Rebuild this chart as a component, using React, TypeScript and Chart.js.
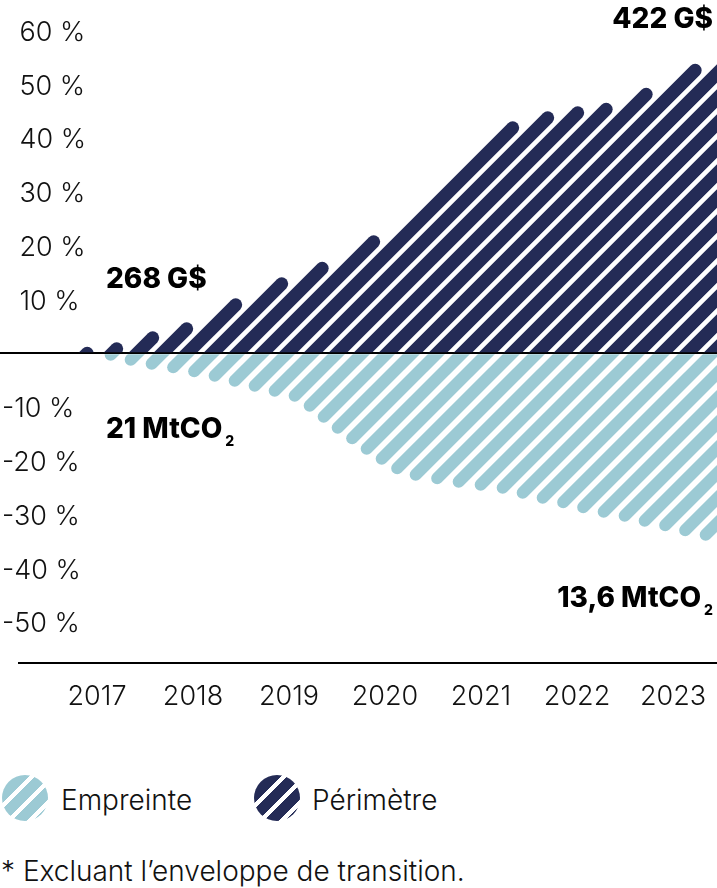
import { useEffect, useRef } from "react";
import { Chart, registerables } from "chart.js";
Chart.register(...registerables);

const NAVY = "#242b56";
const TEAL = "#9ccad4";

const YEAR_TICKS = [2017, 2018, 2019, 2020, 2021, 2022, 2023];
const PERCENT_TICKS = [-50, -40, -30, -20, -10, 0, 10, 20, 30, 40, 50, 60];

// Périmètre (upper envelope, % change)
const PERIMETRE_YEARS = [2016.88, 2017.26, 2017.58, 2017.95, 2018.44, 2018.94, 2019.38, 2019.79, 2021.34, 2021.67, 2021.98, 2022.29, 2022.71, 2023.23, 2023.46];
const PERIMETRE_VALUES = [0, 1.0, 2.9, 4.7, 9.0, 13.1, 16.1, 19.4, 42.1, 43.8, 44.7, 45.3, 48.1, 52.7, 53.3];

// Empreinte (lower envelope, % change)
const EMPREINTE_YEARS = [2017.08, 2017.19, 2017.6, 2018.02, 2018.46, 2018.88, 2019.08, 2019.22, 2019.5, 2019.79, 2020.1, 2020.31, 2020.52, 2020.97, 2021.2, 2021.64, 2022.06, 2022.52, 2022.97, 2023.41, 2023.46];
const EMPREINTE_VALUES = [0, -0.7, -2.1, -3.4, -5.3, -7.2, -8.1, -9.9, -13.9, -17.6, -21.3, -22.6, -23.2, -24.5, -25.0, -26.9, -28.7, -30.4, -32.3, -34.1, -34.3];

const STRIPE_STEP = 25; // px between stripes, measured along the baseline
const STRIPE_PHASE = 15.5;

type Pt = { x: number; y: number };

function curveAt(pts: Pt[], px: number): number | null {
  if (px < pts[0].x) return null;
  const n = pts.length;
  if (px > pts[n - 1].x) {
    // carry the last segment on past the right edge
    const a = pts[n - 2], b = pts[n - 1];
    return b.y + ((px - b.x) * (b.y - a.y)) / (b.x - a.x || 1);
  }
  for (let i = 0; i < n - 1; i++) {
    const a = pts[i], b = pts[i + 1];
    if (px >= a.x && px <= b.x) {
      const f = b.x === a.x ? 0 : (px - a.x) / (b.x - a.x);
      return a.y + f * (b.y - a.y);
    }
  }
  return null;
}

// hatched areas: 45° round-capped strokes from the zero line to the dataset's curve
const stripePlugin = {
  id: "stripes",
  afterDatasetsDraw(chart: any) {
    const { ctx, chartArea: area, scales } = chart;
    const y0 = scales.y.getPixelForValue(0);
    chart.data.datasets.forEach((ds: any, i: number) => {
      const pts: Pt[] = chart.getDatasetMeta(i).data.map((p: any) => ({ x: p.x, y: p.y }));
      if (pts.length < 2) return;
      const up = ds.stripeDir === "up";
      const first = pts[0].x;
      const last = pts[pts.length - 1].x;
      ctx.save();
      ctx.beginPath();
      if (up) ctx.rect(0, 0, area.right, y0 - 1);
      else ctx.rect(0, y0 + 1, area.right, area.bottom - y0 - 2);
      ctx.clip();
      ctx.strokeStyle = ds.stripeColor;
      ctx.lineWidth = ds.stripeWidth;
      ctx.lineCap = "round";

      const inside = (sx: number, t: number) => {
        const px = up ? sx + t : sx - t;
        const py = up ? y0 - t : y0 + t;
        if (up && py < area.top - 30) return false;
        const cy = curveAt(pts, px);
        if (cy == null) return false;
        return up ? py >= cy : py <= cy;
      };

      const cStart = Math.floor((first + y0) / STRIPE_STEP) * STRIPE_STEP + STRIPE_PHASE - STRIPE_STEP;
      const cEnd = last + y0 + (up ? 0 : area.bottom - y0);
      for (let c = cStart; c <= cEnd; c += STRIPE_STEP) {
        const sx = c - y0;
        if (sx < first) continue;
        if (up && sx > last) continue;
        if (!inside(sx, 0)) continue;
        let t = 0;
        while (t < 1500 && inside(sx, t + 0.5)) t += 0.5;
        ctx.beginPath();
        if (up) {
          ctx.moveTo(sx - 10, y0 + 10);
          ctx.lineTo(sx + t, y0 - t);
        } else {
          ctx.moveTo(sx + 10, y0 - 10);
          ctx.lineTo(sx - t, y0 + t);
        }
        ctx.stroke();
      }
      ctx.restore();
    });
  },
};

const boldLabel: React.CSSProperties = {
  position: "absolute",
  fontFamily: "Inter, sans-serif",
  fontWeight: 800,
  fontSize: 28,
  lineHeight: "32px",
  color: "#000",
  whiteSpace: "nowrap",
};

const lightText: React.CSSProperties = {
  position: "absolute",
  fontFamily: "Inter, sans-serif",
  fontWeight: 300,
  fontSize: 28,
  lineHeight: "32px",
  color: "#111",
  whiteSpace: "nowrap",
};

const sub: React.CSSProperties = { fontSize: 14, position: "relative", top: 8, marginLeft: 3 };

function LegendDot({ color, left }: { color: string; left: number }) {
  return (
    <div
      style={{
        position: "absolute",
        left,
        top: 775,
        width: 46,
        height: 46,
        borderRadius: "50%",
        background: `repeating-linear-gradient(-45deg, ${color} 0px, ${color} 11px, #fff 11px, #fff 15px)`,
      }}
    />
  );
}

export default function App() {
  const canvasRef = useRef<HTMLCanvasElement>(null);

  useEffect(() => {
    if (!canvasRef.current) return;
    Chart.defaults.font.family = "Inter, sans-serif";
    const chart = new Chart(canvasRef.current, {
      type: "line",
      data: {
        datasets: [
          {
            label: "Périmètre",
            data: PERIMETRE_YEARS.map((x, i) => ({ x, y: PERIMETRE_VALUES[i] })),
            showLine: false,
            pointRadius: 0,
            borderWidth: 0,
            stripeDir: "up",
            stripeColor: NAVY,
            stripeWidth: 13,
          } as any,
          {
            label: "Empreinte",
            data: EMPREINTE_YEARS.map((x, i) => ({ x, y: EMPREINTE_VALUES[i] })),
            showLine: false,
            pointRadius: 0,
            borderWidth: 0,
            stripeDir: "down",
            stripeColor: TEAL,
            stripeWidth: 12,
          } as any,
        ],
      },
      options: {
        responsive: false,
        animation: false,
        layout: { padding: { top: 20, left: 19, right: 0, bottom: 0 } },
        plugins: { legend: { display: false }, tooltip: { enabled: false } },
        scales: {
          x: {
            type: "linear",
            min: 2016.1875,
            max: 2023.4583,
            afterBuildTicks: (axis: any) => {
              axis.ticks = YEAR_TICKS.map((v) => ({ value: v }));
            },
            afterFit: (axis: any) => {
              axis.height = 67;
              axis.paddingLeft = 0;
              axis.paddingRight = 0;
            },
            grid: { display: false, drawTicks: false },
            border: { display: true, color: "#000", width: 2 },
            ticks: {
              padding: 18,
              color: "#111",
              maxRotation: 0,
              autoSkip: false,
              font: { size: 27, weight: 300 as any },
              callback: (v: any) => String(v),
            },
          },
          y: {
            min: -57.6,
            max: 62,
            afterBuildTicks: (axis: any) => {
              axis.ticks = PERCENT_TICKS.map((v) => ({ value: v }));
            },
            afterFit: (axis: any) => {
              axis.width = 0;
              axis.paddingTop = 0;
              axis.paddingBottom = 0;
            },
            border: { display: false },
            grid: {
              color: (c: any) => (c.tick && c.tick.value === 0 ? "#000" : "rgba(0,0,0,0)"),
              tickColor: (c: any) => (c.tick && c.tick.value === 0 ? "#000" : "rgba(0,0,0,0)"),
              lineWidth: 2,
              drawTicks: true,
              tickLength: 19,
            },
            ticks: {
              mirror: true,
              padding: -17,
              labelOffset: 2,
              color: "#111",
              font: { size: 27, weight: 300 as any },
              callback: (v: any) => (v === 0 ? "" : v < 0 ? `${v} %` : `\u2007${v} %`),
            },
          },
        },
      },
      plugins: [stripePlugin],
    });
    return () => chart.destroy();
  }, []);

  return (
    <div style={{ position: "absolute", left: 0, top: 0, width: 717, height: 888, background: "#fff", overflow: "hidden" }}>
      <canvas ref={canvasRef} width={717} height={730} style={{ position: "absolute", left: 0, top: 0 }} />

      <div style={{ ...boldLabel, right: 4, top: 2 }}>422 G$</div>
      <div style={{ ...boldLabel, left: 106, top: 262 }}>268 G$</div>
      <div style={{ ...boldLabel, left: 106, top: 412 }}>
        21 MtCO<span style={sub}>2</span>
      </div>
      <div style={{ ...boldLabel, right: 4, top: 581 }}>
        13,6 MtCO<span style={sub}>2</span>
      </div>

      <LegendDot color={TEAL} left={2} />
      <div style={{ ...lightText, left: 61, top: 784 }}>Empreinte</div>
      <LegendDot color={NAVY} left={254} />
      <div style={{ ...lightText, left: 312, top: 784 }}>Périmètre</div>

      <div style={{ ...lightText, left: 1, top: 855 }}>* Excluant l’enveloppe de transition.</div>
    </div>
  );
}
